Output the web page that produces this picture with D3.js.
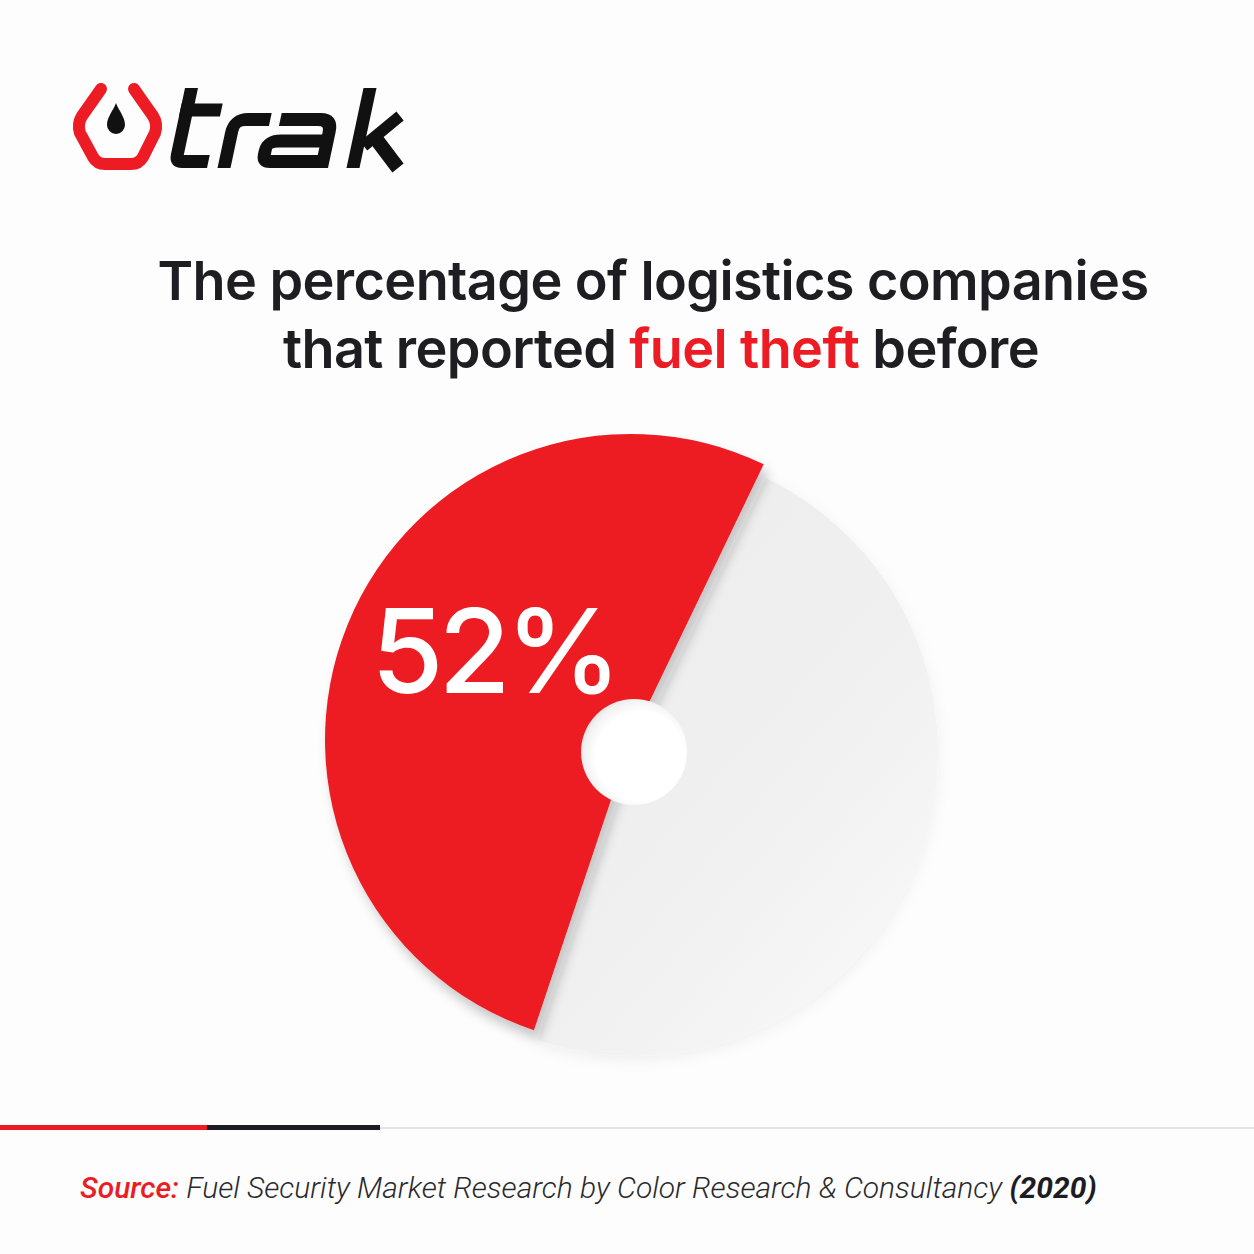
<!DOCTYPE html>
<html>
<head>
<meta charset="utf-8">
<script src="https://cdn.jsdelivr.net/npm/d3@7"></script>
<style>
  html, body { margin: 0; padding: 0; background: #fdfdfd; }
  svg { display: block; }
</style>
</head>
<body>
<svg id="chart" width="1254" height="1254"></svg>
<script>
// ---- data ----
const categories = ["Reported fuel theft", "Did not report fuel theft"];
const values = [52, 48];
const valueLabels = ["52%"];
const titleLines = [
  [{ t: "The percentage of logistics companies", red: false }],
  [{ t: "that reported ", red: false }, { t: "fuel theft", red: true }, { t: " before", red: false }]
];
const sourceParts = [
  { t: "Source:", cls: "src-key" },
  { t: " Fuel Security Market Research by Color Research & Consultancy ", cls: "src-body" },
  { t: "(2020)", cls: "src-year" }
];

// ---- style ----
const RED = "#ed1c24";
const DARK = "#1d1d22";
const W = 1254, H = 1254;

const svg = d3.select("#chart");
svg.append("rect").attr("width", W).attr("height", H).attr("fill", "#fdfdfd");

const defs = svg.append("defs");
const redShadow = defs.append("filter").attr("id", "redShadow")
  .attr("x", "-20%").attr("y", "-20%").attr("width", "140%").attr("height", "140%");
redShadow.append("feDropShadow").attr("dx", 5).attr("dy", 9).attr("stdDeviation", 6)
  .attr("flood-color", "#000").attr("flood-opacity", 0.22);
const greyShadow = defs.append("filter").attr("id", "greyShadow")
  .attr("x", "-20%").attr("y", "-20%").attr("width", "140%").attr("height", "140%");
greyShadow.append("feDropShadow").attr("dx", 0).attr("dy", 4).attr("stdDeviation", 7)
  .attr("flood-color", "#000").attr("flood-opacity", 0.06);
const greyGrad = defs.append("linearGradient").attr("id", "greyGrad")
  .attr("x1", "0").attr("y1", "0").attr("x2", "0.8").attr("y2", "1");
greyGrad.append("stop").attr("offset", "0").attr("stop-color", "#ececec");
greyGrad.append("stop").attr("offset", "0.6").attr("stop-color", "#f0f0f0");
greyGrad.append("stop").attr("offset", "1").attr("stop-color", "#f8f8f8");
const holeGrad = defs.append("radialGradient").attr("id", "holeGrad")
  .attr("cx", "0.56").attr("cy", "0.54").attr("r", "0.56");
holeGrad.append("stop").attr("offset", "0.75").attr("stop-color", "#ffffff");
holeGrad.append("stop").attr("offset", "0.95").attr("stop-color", "#f1f1f1");
holeGrad.append("stop").attr("offset", "1").attr("stop-color", "#e6e6e6");

// ---- logo ----
const logo = svg.append("g").attr("class", "logo");
logo.append("path")
  .attr("d", "M101,89 L82,116 Q77,124 80,133 L93,157 Q97,164 105,164 H131 Q139,164 143,157 L155,133 Q158,124 153,116 L134,89")
  .attr("fill", "none").attr("stroke", RED).attr("stroke-width", 12)
  .attr("stroke-linejoin", "round").attr("stroke-linecap", "round");
logo.append("path")
  .attr("d", "M116,103 C113,111 107,117 107,125 A9,9 0 0 0 125,125 C125,117 119,111 116,103 Z")
  .attr("fill", "#111");
const letters = logo.append("g")
  .attr("transform", "translate(0,168) skewX(-12)")
  .attr("fill", "none").attr("stroke", "#111").attr("stroke-width", 13)
  .attr("stroke-linejoin", "round").attr("stroke-linecap", "butt");
letters.append("path").attr("d", "M174.5,-80 V-14 Q174.5,-6.5 182,-6.5 H207");
letters.append("path").attr("d", "M168,-58 H209");
letters.append("path").attr("d", "M224,0 V-36 Q224,-48.5 236.5,-48.5 H260");
letters.append("path").attr("d", "M270,-48.5 H309 Q321.5,-48.5 321.5,-36 V0");
letters.append("path").attr("d", "M321.5,-27 H274 Q261.5,-27 261.5,-18 V-14 Q261.5,-6.5 270,-6.5 H321.5");
letters.append("path").attr("d", "M353,-80 V0");
letters.append("path").attr("d", "M359,-22 L389,-52");
letters.append("path").attr("d", "M368,-31 L398,0");

// ---- title ----
const title = svg.append("g").attr("class", "title")
  .attr("font-family", "Inter, 'Noto Sans', sans-serif")
  .attr("font-weight", 600).attr("font-size", 54).attr("text-anchor", "middle");
const titleY = [300, 368];
titleLines.forEach((line, i) => {
  const tx = title.append("text").attr("x", i === 0 ? 653 : 661).attr("y", titleY[i])
    .attr("fill", DARK).attr("letter-spacing", -0.6);
  line.forEach(p => tx.append("tspan").text(p.t).attr("fill", p.red ? RED : DARK));
});

// ---- pie ----
const startAngle = 198.5 * Math.PI / 180;
const pie = d3.pie().sort(null).value(d => d)
  .startAngle(startAngle).endAngle(startAngle + 2 * Math.PI);
const arcs = pie(values);
const center = [634, 752];
const greyArc = d3.arc().innerRadius(0).outerRadius(304);
const redArc = d3.arc().innerRadius(0).outerRadius(306);
const lift = [-3, -12];

const pieG = svg.append("g").attr("transform", `translate(${center[0]},${center[1]})`);
pieG.append("path").datum(arcs[1])
  .attr("d", greyArc).attr("fill", "url(#greyGrad)").attr("filter", "url(#greyShadow)");
pieG.append("path").datum(arcs[0])
  .attr("transform", `translate(${lift[0]},${lift[1]})`)
  .attr("d", redArc).attr("fill", RED).attr("filter", "url(#redShadow)");

// hole
pieG.append("circle").attr("r", 53).attr("fill", "url(#holeGrad)");

// value label
svg.append("text").attr("x", 494).attr("y", 693)
  .attr("text-anchor", "middle")
  .attr("font-family", "Inter, 'Noto Sans', sans-serif")
  .attr("font-weight", 500).attr("font-size", 117).attr("fill", "#fff")
  .attr("letter-spacing", -5)
  .text(valueLabels[0]);

// ---- footer divider ----
svg.append("rect").attr("x", 380).attr("y", 1127).attr("width", W - 380).attr("height", 2).attr("fill", "#e2e2e2");
svg.append("rect").attr("x", 0).attr("y", 1125).attr("width", 207).attr("height", 5).attr("fill", RED);
svg.append("rect").attr("x", 207).attr("y", 1125).attr("width", 173).attr("height", 5).attr("fill", "#1c1c22");

// ---- source ----
const src = svg.append("text").attr("x", 80).attr("y", 1198)
  .attr("font-family", "Roboto, 'Liberation Sans', sans-serif")
  .attr("font-size", 30).attr("font-style", "italic");
sourceParts.forEach(p => {
  const s = src.append("tspan").text(p.t);
  if (p.cls === "src-key") s.attr("fill", RED).attr("font-weight", 500);
  else if (p.cls === "src-year") s.attr("fill", "#1c1c22").attr("font-weight", 700);
  else s.attr("fill", "#2a2a2e").attr("font-weight", 300);
});
</script>
</body>
</html>
